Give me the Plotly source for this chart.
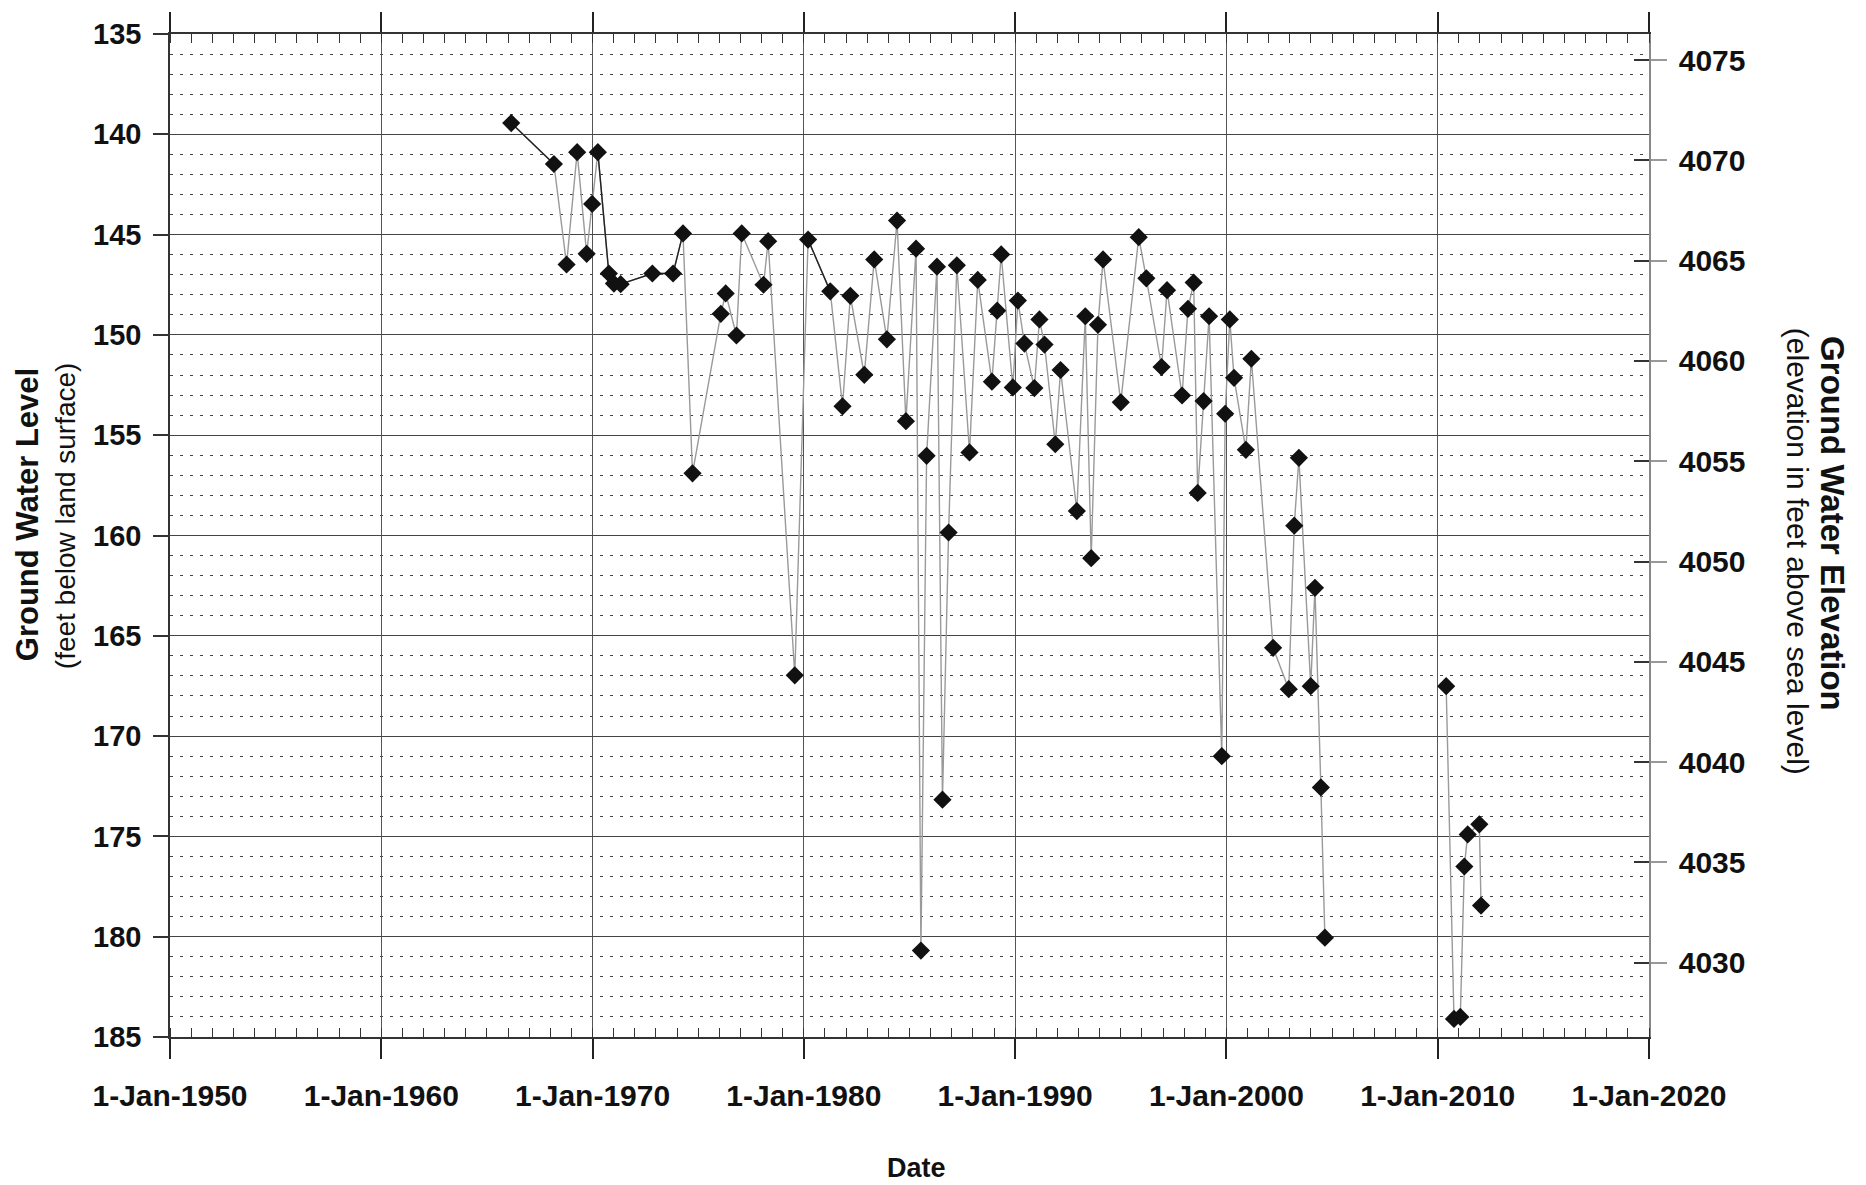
import plotly.graph_objects as go

# ---------------- data ----------------
years = [1966.15, 1968.17, 1968.77, 1969.27, 1969.72, 1969.98, 1970.25, 1970.77, 1971.01, 1971.33,
         1972.83, 1973.81, 1974.28, 1974.73, 1976.07, 1976.30, 1976.81, 1977.06, 1978.09, 1978.31,
         1979.57, 1980.20, 1981.25, 1981.83, 1982.20, 1982.86, 1983.33, 1983.93, 1984.41, 1984.83,
         1985.31, 1985.54, 1985.81, 1986.30, 1986.56, 1986.85, 1987.24, 1987.84, 1988.23, 1988.90,
         1989.15, 1989.34, 1989.89, 1990.13, 1990.44, 1990.91, 1991.15, 1991.39, 1991.90, 1992.15,
         1992.92, 1993.32, 1993.60, 1993.92, 1994.16, 1995.00, 1995.85, 1996.21, 1996.93, 1997.19,
         1997.90, 1998.18, 1998.45, 1998.64, 1998.92, 1999.18, 1999.78, 1999.94, 2000.16, 2000.36,
         2000.92, 2001.18, 2002.21, 2002.95, 2003.21, 2003.43, 2003.99, 2004.19, 2004.47, 2004.66,
         2010.40, 2010.77, 2011.07, 2011.26, 2011.42, 2011.97, 2012.05]

depth_ft = [139.44, 141.48, 146.49, 140.89, 145.96, 143.47, 140.89, 146.94, 147.44, 147.47,
            146.94, 146.94, 144.94, 156.90, 148.95, 147.93, 150.03, 144.94, 147.50, 145.33,
            166.97, 145.25, 147.83, 153.56, 148.05, 151.99, 146.24, 150.22, 144.30, 154.30,
            145.70, 180.69, 156.03, 146.60, 173.17, 159.85, 146.53, 155.86, 147.26, 152.33,
            148.79, 145.99, 152.62, 148.29, 150.43, 152.65, 149.23, 150.48, 155.45, 151.75,
            158.78, 149.07, 161.13, 149.50, 146.24, 153.36, 145.13, 147.18, 151.60, 147.77,
            153.02, 148.70, 147.39, 157.88, 153.30, 149.07, 171.00, 153.93, 149.23, 152.14,
            155.73, 151.19, 165.60, 167.66, 159.51, 156.13, 167.51, 162.61, 172.56, 180.05,
            167.51, 184.10, 184.00, 176.50, 174.90, 174.40, 178.45]

LAND_SURFACE_ELEV = 4211.3      # ft above sea level
GAP_AFTER = 80                  # no connecting line across the 2004-2010 gap

x_tick_years = [1950, 1960, 1970, 1980, 1990, 2000, 2010, 2020]
x_tick_labels = ["1-Jan-1950", "1-Jan-1960", "1-Jan-1970", "1-Jan-1980",
                 "1-Jan-1990", "1-Jan-2000", "1-Jan-2010", "1-Jan-2020"]
depth_ticks = [135, 140, 145, 150, 155, 160, 165, 170, 175, 180, 185]
elev_ticks = [4030, 4035, 4040, 4045, 4050, 4055, 4060, 4065, 4070, 4075]

# ---------------- layout geometry ----------------
W, H = 1866, 1185
L, R, T, B = 170, 1649, 24, 1037

def px(xp):
    return (xp - L) / (R - L)

def py(yp):
    return (B - yp) / (B - T)

FONT = "Liberation Sans, Arial, Helvetica, sans-serif"

fig = go.Figure()

line_x = years[:GAP_AFTER] + [None] + years[GAP_AFTER:]
line_y = depth_ft[:GAP_AFTER] + [None] + depth_ft[GAP_AFTER:]
fig.add_trace(go.Scatter(x=line_x, y=line_y, mode="lines",
                         line=dict(color="#9a9a9a", width=1.4),
                         hoverinfo="skip", showlegend=False))

# darker early segments
for a, b in [(0, 2), (6, 13), (21, 23)]:
    fig.add_trace(go.Scatter(x=years[a:b], y=depth_ft[a:b], mode="lines",
                             line=dict(color="#222222", width=1.4),
                             hoverinfo="skip", showlegend=False))

fig.add_trace(go.Scatter(x=years, y=depth_ft, mode="markers",
                         marker=dict(symbol="diamond", size=14, color="#111111",
                                     line=dict(width=0)),
                         showlegend=False))

elev = [LAND_SURFACE_ELEV - d for d in depth_ft]
fig.add_trace(go.Scatter(x=years, y=elev, yaxis="y2", mode="markers",
                         marker=dict(opacity=0), hoverinfo="skip", showlegend=False))
fig.add_trace(go.Scatter(x=years, y=elev, yaxis="y3", mode="markers",
                         marker=dict(opacity=0), hoverinfo="skip", showlegend=False))

fig.update_layout(
    width=W, height=H,
    margin=dict(l=L, r=W - R, t=T, b=H - B, pad=0),
    paper_bgcolor="white", plot_bgcolor="white",
    showlegend=False,
    xaxis=dict(
        range=[1950, 2020], tickvals=x_tick_years, ticktext=x_tick_labels,
        ticks="outside", ticklen=20, tickwidth=1.5, tickcolor="#222",
        showline=True, linecolor="#333", linewidth=2, mirror="ticks",
        showgrid=True, gridcolor="#555", gridwidth=1.2, zeroline=False,
        minor=dict(dtick=1, ticks="inside", ticklen=9, tickwidth=1, tickcolor="#333",
                   showgrid=False),
        tickfont=dict(family=FONT, size=30, color="#111", weight="bold"),
        ticklabelstandoff=11,
    ),
    yaxis=dict(
        range=[185, 135], tickvals=depth_ticks,
        ticks="outside", ticklen=15, tickwidth=1.5, tickcolor="#333",
        showline=True, linecolor="#333", linewidth=1.5,
        showgrid=True, gridcolor="#444", gridwidth=1.2, zeroline=False,
        minor=dict(dtick=1, showgrid=True, gridcolor="#444", gridwidth=1,
                   griddash="3px,7px", ticks=""),
        tickfont=dict(family=FONT, size=29, color="#111", weight="bold"),
        ticklabelstandoff=6,
    ),
    yaxis2=dict(
        overlaying="y", side="right", anchor="x",
        range=[LAND_SURFACE_ELEV - 185, LAND_SURFACE_ELEV - 135], tickvals=elev_ticks,
        ticks="outside", ticklen=16, tickwidth=1.5, tickcolor="#999",
        showline=True, linecolor="#888", linewidth=1.5,
        showgrid=False, zeroline=False,
        tickfont=dict(family=FONT, size=30, color="#111", weight="bold"),
        ticklabelstandoff=6,
    ),
    yaxis3=dict(
        overlaying="y", side="right", anchor="x",
        range=[LAND_SURFACE_ELEV - 185, LAND_SURFACE_ELEV - 135], tickvals=elev_ticks,
        ticks="inside", ticklen=15, tickwidth=1.5, tickcolor="#333",
        showline=False, showgrid=False, zeroline=False, showticklabels=False,
    ),
)

annotations = [
    dict(text="<b>Ground Water Level</b>", x=px(27), y=py(510), textangle=-90,
         font=dict(family=FONT, size=31, color="#111")),
    dict(text="(feet below land surface)", x=px(65), y=py(511), textangle=-90,
         font=dict(family=FONT, size=28, color="#111")),
    dict(text="<b>Ground Water Elevation</b>", x=px(1833), y=py(518), textangle=90,
         font=dict(family=FONT, size=33, color="#111")),
    dict(text="(elevation in feet above sea level)", x=px(1797), y=py(546), textangle=90,
         font=dict(family=FONT, size=30, color="#111")),
    dict(text="<b>Date</b>", x=px(917), y=py(1169), textangle=0,
         font=dict(family=FONT, size=27, color="#111")),
]
for a in annotations:
    a.update(xref="paper", yref="paper", xanchor="center", yanchor="middle",
             showarrow=False)
fig.update_layout(annotations=annotations)

fig.write_html("out.html")
